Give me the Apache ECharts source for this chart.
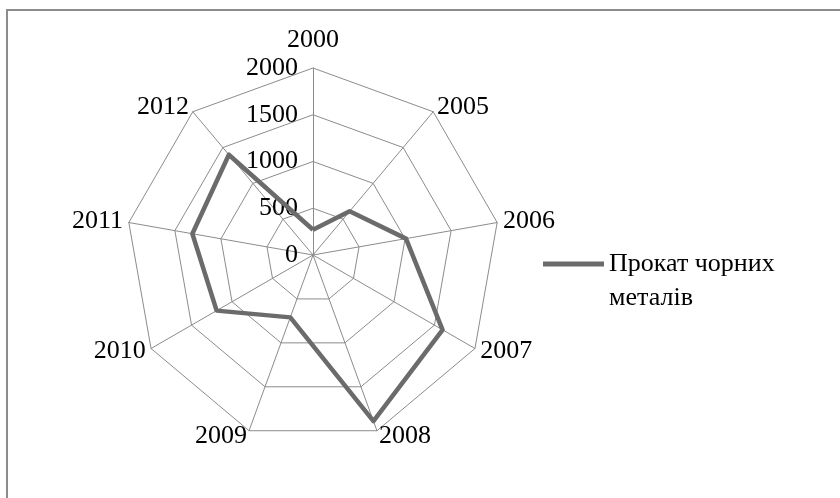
<!DOCTYPE html>
<html>
<head>
<meta charset="utf-8">
<script src="https://cdn.jsdelivr.net/npm/echarts@6/dist/echarts.min.js"></script>
<style>html,body{margin:0;padding:0;background:#fff}#c{width:840px;height:498px}</style>
</head>
<body>
<div id="c"></div>
<script>
const categories = ['2000', '2005', '2006', '2007', '2008', '2009', '2010', '2011', '2012'];
const seriesName = 'Прокат чорних металів';
const values = [270, 610, 1010, 1600, 1890, 710, 1190, 1310, 1400];
const axisMax = 2000;
const axisSplits = 4;

// ECharts radar runs counter-clockwise; reorder (keeping the first) to draw clockwise
const order = [0].concat(categories.map((_, i) => i).slice(1).reverse());
const cats = order.map(i => categories[i]);
const vals = order.map(i => values[i]);

const font = 'Liberation Serif, Times New Roman, serif';
const chart = echarts.init(document.getElementById('c'));
chart.setOption({
  animation: false,
  backgroundColor: '#fff',
  graphic: [{
    type: 'rect', silent: true,
    shape: { x: 7, y: 10, width: 1000, height: 1000 },
    style: { fill: 'none', stroke: '#8c8c8c', lineWidth: 2 }
  }],
  legend: {
    left: 543, top: 213, padding: 0,
    icon: 'rect', itemWidth: 61, itemHeight: 5, itemGap: 5,
    data: [seriesName],
    formatter: n => '\n' + n.replace(/ (?=\S+$)/, '\n'),
    textStyle: { fontFamily: font, fontSize: 26, color: '#000', lineHeight: 34 }
  },
  radar: [{
    center: [313, 255], radius: 187, startAngle: 90, shape: 'polygon',
    splitNumber: axisSplits, nameGap: 6,
    indicator: cats.map(c => ({ name: c, min: 0, max: axisMax })),
    axisName: {
      color: '#000', fontFamily: font, fontSize: 26,
      formatter: (name) => name === categories[0] ? '{top|' + name + '}' : name,
      rich: { top: { fontFamily: font, fontSize: 26, color: '#000', padding: [0, 0, 9, 0] } }
    },
    splitLine: { lineStyle: { color: '#8c8c8c', width: 1 } },
    splitArea: { show: false },
    axisLine: { lineStyle: { color: '#8c8c8c', width: 1 } },
    axisTick: { show: false },
    axisLabel: { show: false }
  }, {
    center: [313, 255], radius: 187, startAngle: 90, shape: 'polygon',
    splitNumber: axisSplits,
    indicator: [{ name: '', min: 0, max: axisMax }],
    axisName: { show: false },
    splitLine: { show: false },
    splitArea: { show: false },
    axisLine: { show: false },
    axisTick: { show: false },
    axisLabel: { show: true, margin: 15, color: '#000', fontFamily: font, fontSize: 26, formatter: v => String(v) }
  }],
  series: [{
    type: 'radar', name: seriesName, radarIndex: 0,
    symbol: 'none',
    lineStyle: { color: '#6b6b6b', width: 4.5 },
    itemStyle: { color: '#6b6b6b' },
    data: [{ name: seriesName, value: vals }]
  }]
});
</script>
</body>
</html>
